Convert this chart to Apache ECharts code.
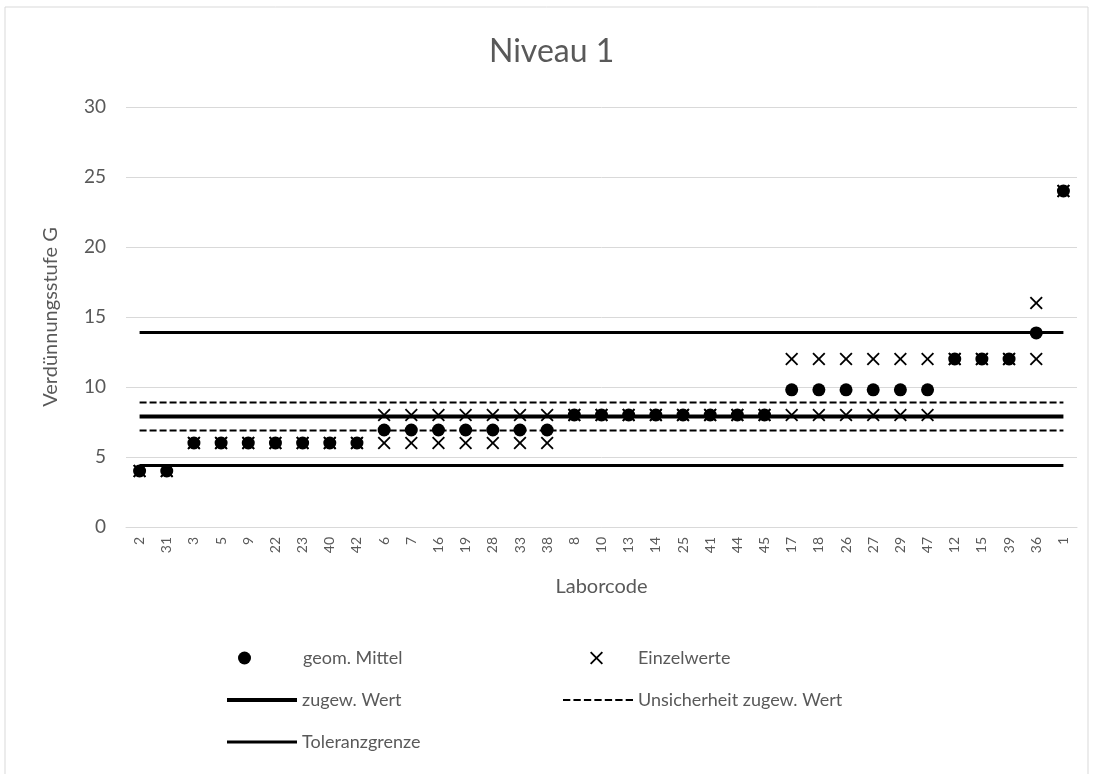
<!DOCTYPE html>
<html>
<head>
<meta charset="utf-8">
<script src="https://cdn.jsdelivr.net/npm/echarts@6/dist/echarts.min.js"></script>
<style>
  html, body { margin: 0; padding: 0; background: #fff; }
  #main { width: 1094px; height: 774px; }
</style>
</head>
<body>
<div id="main"></div>
<script>
// lab codes along the x axis
const labs = ['2', '31', '3', '5', '9', '22', '23', '40', '42', '6', '7', '16', '19', '28', '33', '38',
  '8', '10', '13', '14', '25', '41', '44', '45', '17', '18', '26', '27', '29', '47', '12', '15', '39', '36', '1'];

// geometric mean per lab
const geomMittel = [4, 4, 6, 6, 6, 6, 6, 6, 6, 6.93, 6.93, 6.93, 6.93, 6.93, 6.93, 6.93,
  8, 8, 8, 8, 8, 8, 8, 8, 9.8, 9.8, 9.8, 9.8, 9.8, 9.8, 12, 12, 12, 13.86, 24];

// single values (two per lab)
const einzelLow = [4, 4, 6, 6, 6, 6, 6, 6, 6, 6, 6, 6, 6, 6, 6, 6,
  8, 8, 8, 8, 8, 8, 8, 8, 8, 8, 8, 8, 8, 8, 12, 12, 12, 12, 24];
const einzelHigh = [4, 4, 6, 6, 6, 6, 6, 6, 6, 8, 8, 8, 8, 8, 8, 8,
  8, 8, 8, 8, 8, 8, 8, 8, 12, 12, 12, 12, 12, 12, 12, 12, 12, 16, 24];

// reference lines
const zugewWert = 7.9;
const unsicherheit = [6.9, 8.9];
const toleranz = [4.4, 13.9];

const yTicks = { min: 0, max: 30, interval: 5 };

const textColor = '#595959';
const fontFamily = 'Lato, "Open Sans", sans-serif';
const crossPath = 'path://M0,1L1,0L5,4L9,0L10,1L6,5L10,9L9,10L5,6L1,10L0,9L4,5Z';
// legend keys for the lines (plain strokes, no marker)
const thickKey = 'path://M0,0L70,0L70,4L0,4Z';
const midKey = 'path://M0,0L70,0L70,3L0,3Z';
let dashKey = 'path://';
for (let d = 0; d < 7; d++) {
  dashKey += `M${d * 10},0L${d * 10 + 7},0L${d * 10 + 7},2L${d * 10},2Z`;
}

const einzelData = [];
labs.forEach((lab, i) => {
  einzelData.push([i, einzelLow[i]]);
  einzelData.push([i, einzelHigh[i]]);
});

const flatLine = (value) => labs.map(() => value);

const myChart = echarts.init(document.getElementById('main'));

const legendBase = {
  itemWidth: 70,
  itemHeight: 13,
  padding: 0,
  textStyle: { fontSize: 18, color: textColor, fontFamily },
  selectedMode: false,
};

const option = {
  animation: false,
  graphic: [{
    type: 'rect',
    shape: { x: 5, y: 7, width: 1083, height: 780 },
    style: { fill: 'none', stroke: '#d9d9d9', lineWidth: 1 },
  }],
  title: {
    text: 'Niveau 1',
    left: 489,
    top: 36,
    padding: 0,
    textStyle: { fontSize: 32, fontWeight: 'normal', color: textColor, fontFamily },
  },
  grid: {
    left: 126,
    right: 17,
    top: 107,
    bottom: 247,
  },
  legend: [
    {
      ...legendBase,
      itemWidth: 59,
      data: [{ name: 'geom. Mittel' }],
      left: 238,
      top: 649,
      textStyle: { ...legendBase.textStyle, padding: [0, 0, 0, 24] },
    },
    {
      ...legendBase,
      itemWidth: 43,
      data: [{ name: 'Einzelwerte', icon: crossPath }],
      left: 590,
      top: 649,
      textStyle: { ...legendBase.textStyle, padding: [0, 0, 0, 15] },
    },
    { ...legendBase, data: [{ name: 'zugew. Wert', icon: thickKey }], left: 227, top: 691 },
    { ...legendBase, data: [{ name: 'Unsicherheit zugew. Wert', icon: dashKey }], left: 563, top: 691 },
    { ...legendBase, data: [{ name: 'Toleranzgrenze', icon: midKey }], left: 227, top: 733 },
  ],
  xAxis: {
    type: 'category',
    data: labs,
    name: 'Laborcode',
    nameLocation: 'middle',
    nameGap: 50,
    nameTextStyle: { fontSize: 20, color: textColor, fontFamily },
    axisLine: { lineStyle: { color: '#d9d9d9', width: 1 } },
    axisTick: { show: false },
    axisLabel: { rotate: 90, fontSize: 14, color: textColor, fontFamily, margin: 10, interval: 0 },
    splitLine: { show: false },
  },
  yAxis: {
    type: 'value',
    min: yTicks.min,
    max: yTicks.max,
    interval: yTicks.interval,
    name: 'Verdünnungsstufe G',
    nameLocation: 'middle',
    nameGap: 65,
    nameTextStyle: { fontSize: 20, color: textColor, fontFamily },
    axisLine: { show: false },
    axisTick: { show: false },
    axisLabel: { fontSize: 19, color: textColor, fontFamily, margin: 20 },
    splitLine: { lineStyle: { color: '#d9d9d9', width: 1 } },
  },
  series: [
    {
      name: 'Toleranzgrenze',
      type: 'line',
      symbol: 'none',
      data: flatLine(toleranz[0]),
      lineStyle: { color: '#000', width: 3 },
      itemStyle: { color: '#000' },
    },
    {
      name: 'Toleranzgrenze',
      type: 'line',
      symbol: 'none',
      data: flatLine(toleranz[1]),
      lineStyle: { color: '#000', width: 3 },
      itemStyle: { color: '#000' },
    },
    {
      name: 'Unsicherheit zugew. Wert',
      type: 'line',
      symbol: 'none',
      data: flatLine(unsicherheit[0]),
      lineStyle: { color: '#000', width: 2, type: [7, 3] },
      itemStyle: { color: '#000' },
    },
    {
      name: 'Unsicherheit zugew. Wert',
      type: 'line',
      symbol: 'none',
      data: flatLine(unsicherheit[1]),
      lineStyle: { color: '#000', width: 2, type: [7, 3] },
      itemStyle: { color: '#000' },
    },
    {
      name: 'zugew. Wert',
      type: 'line',
      symbol: 'none',
      data: flatLine(zugewWert),
      lineStyle: { color: '#000', width: 4 },
      itemStyle: { color: '#000' },
    },
    {
      name: 'geom. Mittel',
      type: 'scatter',
      symbol: 'circle',
      symbolSize: 13,
      data: geomMittel.map((v, i) => [i, v]),
      itemStyle: { color: '#000', opacity: 1 },
    },
    {
      name: 'Einzelwerte',
      type: 'scatter',
      symbol: crossPath,
      symbolSize: 13,
      data: einzelData,
      itemStyle: { color: '#000', opacity: 1 },
    },
  ],
};

myChart.setOption(option);
</script>
</body>
</html>
